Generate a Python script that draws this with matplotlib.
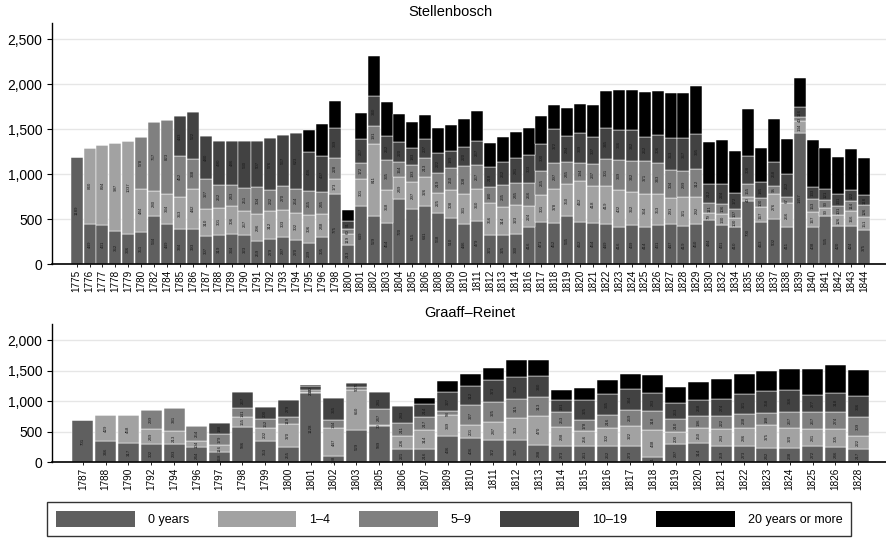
import matplotlib
matplotlib.use("Agg")
import matplotlib.pyplot as plt
from matplotlib.patches import Patch
from matplotlib.ticker import StrMethodFormatter

plt.rcParams["font.family"] = ["Liberation Sans", "DejaVu Sans"]

# ---- data -----------------------------------------------------------------
age_groups = ["0 years", "1–4", "5–9", "10–19", "20 years or more"]
colors = ["#5f5f5f", "#a2a2a2", "#808080", "#424242", "#000000"]

st_years = [1775, 1776, 1777, 1778, 1779, 1780, 1782, 1784, 1785, 1786, 1787,
            1788, 1789, 1790, 1791, 1792, 1793, 1794, 1795, 1796, 1798, 1800,
            1801, 1802, 1803, 1804, 1805, 1806, 1808, 1809, 1810, 1811, 1812,
            1813, 1814, 1816, 1817, 1818, 1819, 1820, 1821, 1822, 1823, 1824,
            1825, 1826, 1827, 1828, 1829, 1830, 1832, 1834, 1835, 1836, 1837,
            1838, 1839, 1840, 1841, 1842, 1843, 1844]
st_0 = [1189, 449, 431, 362, 336, 351, 534, 449, 384, 393, 307, 319, 334, 323,
        259, 279, 297, 270, 239, 305, 775, 213, 649, 529, 454, 720, 615, 641,
        568, 510, 446, 479, 321, 325, 330, 416, 471, 452, 535, 462, 454, 449,
        416, 439, 414, 431, 447, 419, 450, 484, 431, 410, 700, 463, 502, 411,
        1457, 408, 535, 420, 424, 375]
st_1 = [0, 840, 894, 987, 1037, 484, 280, 334, 363, 442, 310, 301, 306, 267,
        296, 312, 303, 302, 306, 248, 173, 119, 301, 811, 368, 249, 297, 326,
        225, 308, 331, 360, 356, 314, 323, 224, 301, 378, 350, 462, 418, 419,
        402, 362, 364, 353, 291, 321, 292, 79, 130, 100, 40, 167, 276, 266,
        134, 167, 90, 126, 166, 151]
st_5 = [0, 0, 0, 0, 0, 578, 767, 823, 452, 338, 327, 262, 243, 251, 304, 232,
        270, 264, 265, 245, 228, 60, 172, 191, 335, 164, 193, 213, 219, 250,
        308, 267, 180, 235, 245, 266, 265, 297, 245, 194, 237, 301, 339, 342,
        371, 343, 304, 299, 312, 111, 106, 107, 155, 100, 95, 67, 40, 153, 90,
        101, 114, 126]
st_10 = [0, 0, 0, 0, 0, 0, 0, 0, 443, 522, 480, 490, 486, 530, 507, 576, 567,
         623, 436, 407, 339, 91, 267, 340, 262, 220, 183, 207, 222, 189, 220,
         267, 218, 262, 281, 303, 300, 372, 294, 339, 307, 345, 336, 342, 262,
         306, 363, 367, 395, 212, 224, 172, 308, 185, 258, 262, 116, 133, 121,
         131, 122, 118]
st_20 = [0, 0, 0, 0, 0, 0, 0, 0, 0, 0, 0, 0, 0, 0, 0, 0, 0, 0, 240, 351, 296,
         117, 285, 444, 381, 314, 286, 269, 281, 291, 310, 327, 273, 279, 291,
         306, 307, 268, 313, 317, 351, 408, 437, 452, 504, 489, 502, 494, 529,
         470, 487, 467, 519, 378, 476, 379, 320, 517, 453, 411, 452, 404]

gr_years = [1787, 1788, 1790, 1792, 1794, 1796, 1797, 1798, 1799, 1800, 1801,
            1802, 1803, 1805, 1806, 1807, 1809, 1810, 1811, 1812, 1813, 1814,
            1815, 1816, 1817, 1818, 1819, 1820, 1821, 1822, 1823, 1824, 1825,
            1826, 1828]
gr_0 = [701, 346, 317, 302, 293, 244, 168, 586, 353, 255, 1128, 108, 529, 589,
        221, 216, 436, 406, 372, 367, 288, 273, 261, 262, 273, 91, 297, 314,
        259, 273, 242, 238, 272, 246, 217]
gr_1 = [0, 429, 458, 249, 213, 104, 116, 155, 202, 370, 25, 447, 650, 30, 206,
        314, 339, 201, 287, 353, 470, 298, 256, 302, 322, 438, 200, 250, 283,
        286, 375, 320, 281, 305, 222]
gr_5 = [0, 0, 0, 299, 381, 254, 179, 141, 152, 119, 30, 134, 50, 247, 211, 217,
        58, 327, 325, 315, 313, 253, 178, 216, 269, 318, 210, 196, 222, 238,
        188, 267, 267, 274, 309]
gr_10 = [0, 0, 0, 0, 0, 0, 188, 267, 200, 279, 60, 365, 76, 281, 283, 214, 327,
         312, 373, 362, 340, 191, 325, 335, 344, 283, 263, 268, 274, 321, 358,
         366, 277, 318, 336]
gr_20 = [0, 0, 0, 0, 0, 0, 0, 0, 0, 0, 20, 0, 0, 0, 0, 97, 170, 199, 186, 277,
         263, 163, 196, 232, 237, 293, 257, 292, 325, 322, 331, 336, 430, 455,
         432]


def stacked(ax, years, series, width):
    x = list(range(len(years)))
    bottom = [0] * len(years)
    for k, vals in enumerate(series):
        ax.bar(x, vals, width, bottom=bottom, color=colors[k],
               edgecolor="white", linewidth=0.35, zorder=2)
        if k < len(series) - 1:
            for i, v in enumerate(vals):
                if v > 0:
                    ax.text(x[i], bottom[i] + v / 2, str(v), rotation=90,
                            ha="center", va="center", fontsize=3.2,
                            color="#1a1a1a", zorder=3)
        bottom = [b + v for b, v in zip(bottom, vals)]
    ax.set_xticks(x)
    ax.set_xticklabels([str(y) for y in years], rotation=90, fontsize=7.2)
    ax.yaxis.set_major_formatter(StrMethodFormatter("{x:,.0f}"))
    ax.tick_params(axis="y", labelsize=10, length=3.5, width=0.8)
    ax.tick_params(axis="x", length=2, width=0.6, pad=2)
    ax.grid(axis="y", color="#e6e6e6", linewidth=1, zorder=0)
    ax.set_axisbelow(True)
    for s in ["top", "right"]:
        ax.spines[s].set_visible(False)
    ax.spines["left"].set_linewidth(1)
    ax.spines["bottom"].set_linewidth(1.2)


fig = plt.figure(figsize=(8.86, 5.4), dpi=100)

ax1 = fig.add_axes([0.0587, 0.5111, 0.9413, 0.4463])
stacked(ax1, st_years, [st_0, st_1, st_5, st_10, st_20], 0.93)
ax1.set_ylim(0, 2680)
ax1.set_yticks([0, 500, 1000, 1500, 2000, 2500])
ax1.set_xlim(-1.91, 62.69)

ax2 = fig.add_axes([0.0587, 0.1439, 0.9413, 0.2561])
stacked(ax2, gr_years, [gr_0, gr_1, gr_5, gr_10, gr_20], 0.92)
ax2.set_ylim(0, 2267)
ax2.set_yticks([0, 500, 1000, 1500, 2000])
ax2.set_xlim(-1.35, 35.22)

fig.text(450 / 886, 1 - 12 / 540, "Stellenbosch", ha="center", va="center",
         fontsize=10.5)
fig.text(470 / 886, 1 - 313 / 540, "Graaff–Reinet", ha="center", va="center",
         fontsize=10.5)

handles = [Patch(facecolor=c, edgecolor="none") for c in colors]
leg = fig.legend(handles, age_groups, loc="upper center",
                 bbox_to_anchor=(449 / 886, 1 - 502 / 540), ncol=5,
                 fontsize=9, frameon=True, fancybox=False, edgecolor="black",
                 handlelength=6.3, handleheight=1.6, handletextpad=1.04,
                 columnspacing=2.3, borderpad=0.7, borderaxespad=0)
leg.get_frame().set_linewidth(1)

fig.savefig("out.png", dpi=100)
